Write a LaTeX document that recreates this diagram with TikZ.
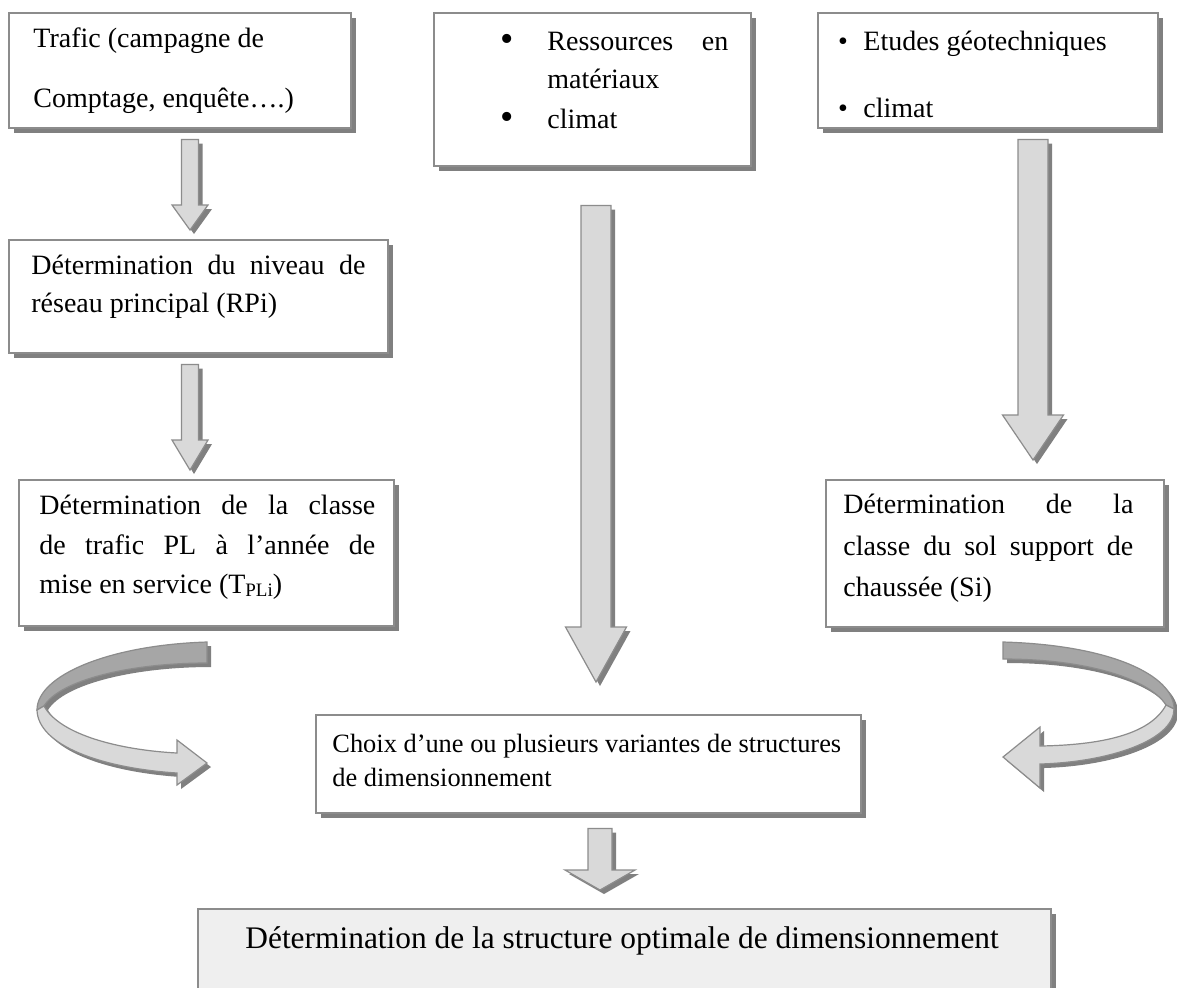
\documentclass[tikz,border=0pt]{standalone}
\usepackage{fontspec}
\setmainfont{Liberation Serif}
\usetikzlibrary{calc,shadows}
\definecolor{bordc}{HTML}{8C8C8C}
\definecolor{shadc}{HTML}{808080}
\definecolor{afill}{HTML}{D9D9D9}
\definecolor{adark}{HTML}{A6A6A6}
\definecolor{bfill}{HTML}{EFEFEF}
\tikzset{
  boxshape/.style={draw=bordc, line width=0.75pt, fill=white, inner sep=0pt,
    anchor=north west,
    drop shadow={shadow xshift=2.5pt, shadow yshift=-2.5pt, fill=shadc, opacity=1}},
  txt/.style={inner sep=0pt, anchor=base west, font=\fontsize{14}{16}\selectfont},
  bul/.style={inner sep=0pt, anchor=base, font=\fontsize{14}{16}\selectfont},
  bigbul/.style={inner sep=0pt, anchor=base, font=\fontsize{19}{20}\selectfont},
  arrbody/.style={fill=afill, draw=bordc, line width=0.6pt},
  arrdark/.style={fill=adark, draw=bordc, line width=0.6pt},
  arrshadow/.style={fill=shadc, transform canvas={shift={(4,4)}}}
}
\newcommand\blockdown[8]{%
  \coordinate (AX) at (#3,0);
  \coordinate (S) at ($(AX |- #1.south)+(0,#4)$);
  \coordinate (T) at ($(AX |- #2.north)+(0,-#5)$);
  \def\bpath{($(S)+(-#6,0)$) -- ($(S)+(#6,0)$) -- ($(T)+(#6,-#8)$) -- ($(T)+(#7,-#8)$) -- (T) -- ($(T)+(-#7,-#8)$) -- ($(T)+(-#6,-#8)$) -- cycle}%
  \fill[arrshadow] \bpath;
  \filldraw[arrbody] \bpath;
}
\begin{document}
\begin{tikzpicture}[x=0.5pt, y=-0.5pt]
\useasboundingbox (0,0) rectangle (1177,987);
\clip (0,0) rectangle (1177,987);
\fill[white] (0,0) rectangle (1177,987);

% boxes
\node[boxshape, minimum width=171pt, minimum height=57.5pt] (b1) at (8,12) {};
\node[boxshape, minimum width=158.5pt, minimum height=76.5pt] (b2) at (433,12) {};
\node[boxshape, minimum width=170pt, minimum height=57.5pt] (b3) at (817,12) {};
\node[boxshape, minimum width=189.5pt, minimum height=56.5pt] (b4) at (8,239) {};
\node[boxshape, minimum width=187.5pt, minimum height=73pt] (b5) at (18,479) {};
\node[boxshape, minimum width=169pt, minimum height=73.5pt] (b6) at (825,479) {};
\node[boxshape, minimum width=272.5pt, minimum height=49pt] (b7) at (315,714) {};
\node[boxshape, fill=bfill, minimum width=426.5pt, minimum height=60pt] (b8) at (197,908) {};

% texts
\node[txt] (t1a) at (33,47) {Trafic (campagne de};
\node[txt] (t1b) at (33,107) {Comptage, enquête….)};

\node[bigbul] (u2a) at (507,51) {•};
\node[txt] (t2a) at (547,50) {\hbox to 90.5pt{Ressources\hfill en}};
\node[txt] (t2b) at (547,88) {matériaux};
\node[bigbul] (u2b) at (507,129) {•};
\node[txt] (t2c) at (547,128) {climat};

\node[bul] (u3a) at (843,50) {•};
\node[txt] (t3a) at (863,50) {Etudes géotechniques};
\node[bul] (u3b) at (843,117) {•};
\node[txt] (t3b) at (863,117) {climat};

\node[txt] (t4a) at (31,274) {\hbox to 167pt{Détermination\hfill du\hfill niveau\hfill de}};
\node[txt] (t4b) at (31,312) {réseau principal (RPi)};

\node[txt] (t5a) at (39,514) {\hbox to 168pt{Détermination\hfill de\hfill la\hfill classe}};
\node[txt] (t5b) at (39,554) {\hbox to 168pt{de\hfill trafic\hfill PL\hfill à\hfill l’année\hfill de}};
\node[txt] (t5c) at (39,593) {mise en service (T{\fontsize{9.5}{10}\selectfont\raisebox{-1.5pt}{PLi}})};

\node[txt] (t6a) at (843,513) {\hbox to 145pt{Détermination\hfill de\hfill la}};
\node[txt] (t6b) at (843,555) {\hbox to 145pt{classe\hfill du\hfill sol\hfill support\hfill de}};
\node[txt] (t6c) at (843,596) {chaussée (Si)};

\node[txt, font=\fontsize{13.2}{15}\selectfont] (t7a) at (332,752) {Choix d’une ou plusieurs variantes de structures};
\node[txt, font=\fontsize{13.2}{15}\selectfont] (t7b) at (332,786) {de dimensionnement};

\node[txt, font=\fontsize{15.7}{18}\selectfont] (t8) at (245,948) {Détermination de la structure optimale de dimensionnement};

% straight block arrows
\blockdown{b1}{b4}{190}{11}{9}{8.5}{18}{25}
\blockdown{b4}{b5}{190}{11}{9}{8.5}{18}{30}
\blockdown{b2}{b7}{596}{39}{32}{15}{30.5}{55}
\blockdown{b3}{b6}{1033}{11}{19}{15}{30.5}{45}
\blockdown{b7}{b8}{600}{15}{18}{12}{35}{20}

% left curved arrow
\fill[arrshadow] (207,642) .. controls (110,645) and (37,675) .. (37,710)
  .. controls (38,745) and (100,768) .. (177,773) -- (177,785) -- (207,763) -- (177,740) -- (177,753)
  .. controls (120,750) and (60,735) .. (44,706)
  .. controls (60,680) and (130,663) .. (207,663) -- cycle;
\filldraw[arrdark] (207,642) .. controls (110,645) and (37,675) .. (37,710) -- (44,706)
  .. controls (60,680) and (130,663) .. (207,663) -- cycle;
\filldraw[arrbody] (37,710) .. controls (38,745) and (100,768) .. (177,773) -- (177,785) -- (207,763)
  -- (177,740) -- (177,753) .. controls (120,750) and (60,735) .. (44,706) -- cycle;

% right curved arrow
\fill[arrshadow] (1003,642) .. controls (1110,645) and (1174,675) .. (1174,709)
  .. controls (1174,740) and (1110,762) .. (1040,764) -- (1040,788) -- (1003,757) -- (1040,727) -- (1040,746)
  .. controls (1100,745) and (1150,735) .. (1166,705)
  .. controls (1150,680) and (1090,659) .. (1003,659) -- cycle;
\filldraw[arrdark] (1003,642) .. controls (1110,645) and (1174,675) .. (1174,709) -- (1166,705)
  .. controls (1150,680) and (1090,659) .. (1003,659) -- cycle;
\filldraw[arrbody] (1174,709) .. controls (1174,740) and (1110,762) .. (1040,764) -- (1040,788) -- (1003,757)
  -- (1040,727) -- (1040,746) .. controls (1100,745) and (1150,735) .. (1166,705) -- cycle;
\end{tikzpicture}
\end{document}
